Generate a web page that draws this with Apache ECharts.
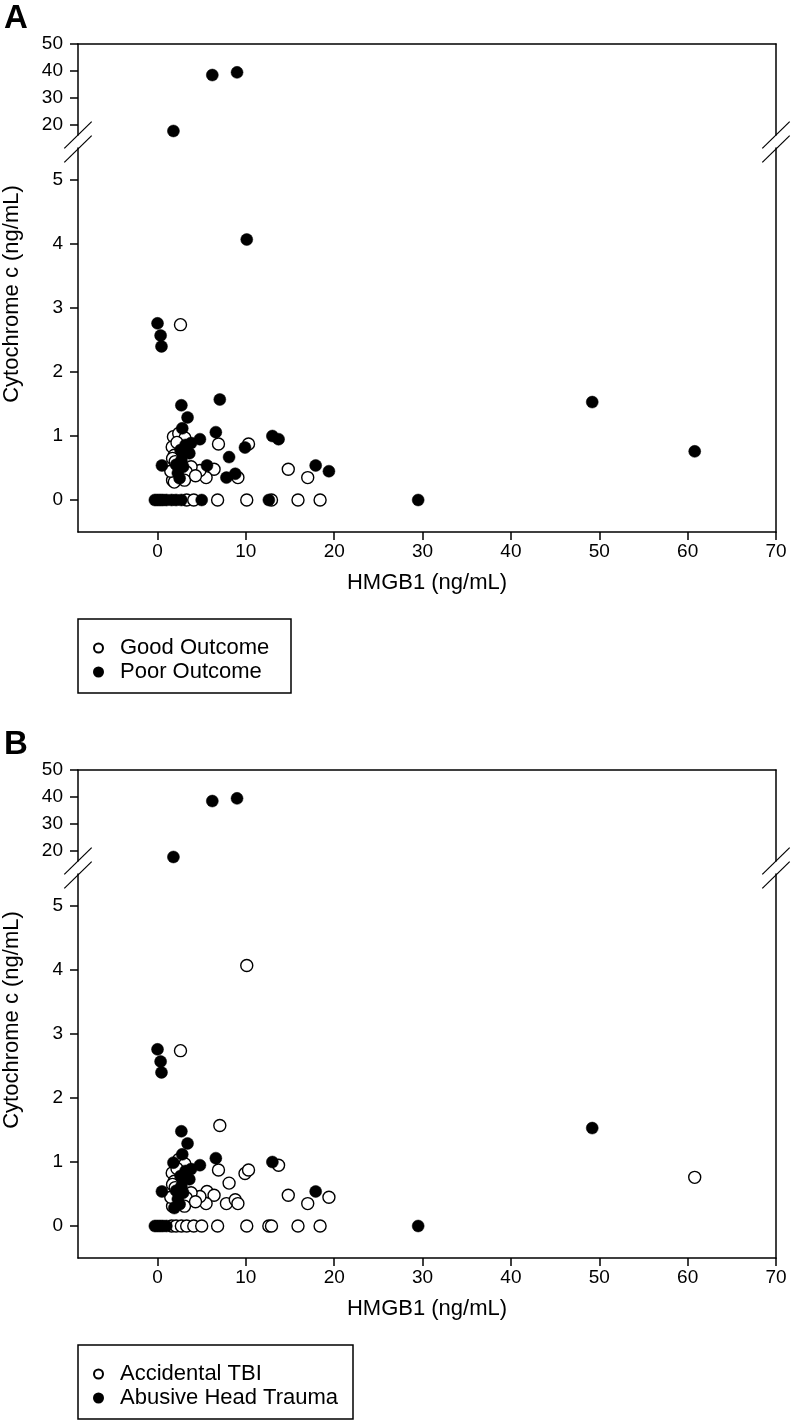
<!DOCTYPE html>
<html><head><meta charset="utf-8">
<script src="https://cdn.jsdelivr.net/npm/echarts@6/dist/echarts.min.js"></script>
<style>html,body{margin:0;padding:0;background:#fff}#c{width:792px;height:1421px}</style>
</head><body><div id="c"></div>
<script>
// ---- data (HMGB1 ng/mL, cytochrome c ng/mL, outcome flag, mechanism flag) ----
const hmgb1 = [1.8, 6.2, 9.0, 10.1, 0.0, 0.35, 0.45, 2.6, 7.05, 2.7,
  3.4, 2.8, 6.6, 13.0, 13.7, 4.8, 9.9, 10.3, 6.9, 8.1,
  0.5, 5.6, 6.4, 14.8, 17.9, 19.4, 17.0, 7.8, 8.8, 9.1,
  5.5, 4.8, 49.2, 60.8, 29.5, 1.8, 2.4, 1.66, 3.17, 3.8,
  3.6, 1.9, 1.7, 2.7, 2.1, 2.9, 3.8, 2.3, 3.25, 2.5,
  1.7, 1.9, 3.05, 3.1, -0.3, 0.0, 0.3, 0.6, 1.0, 1.6,
  2.1, 2.7, 3.3, 4.1, 5.0, 6.8, 10.1, 12.6, 12.9, 15.9,
  18.4, 2.2, 1.5, 2.0, 4.3, 2.6];
const cytochromeC = [17.5, 38.4, 39.4, 4.07, 2.76, 2.57, 2.40, 2.74, 1.57, 1.48,
  1.29, 1.12, 1.06, 1.00, 0.95, 0.95, 0.82, 0.875, 0.875, 0.67,
  0.54, 0.54, 0.48, 0.48, 0.54, 0.45, 0.35, 0.35, 0.41, 0.35,
  0.35, 0.46, 1.53, 0.76, 0.0, 0.99, 1.04, 0.83, 0.86, 0.89,
  0.73, 0.70, 0.65, 0.62, 0.55, 0.52, 0.52, 0.42, 0.44, 0.34,
  0.31, 0.28, 0.31, 0.97, 0, 0, 0, 0, 0, 0,
  0, 0, 0, 0, 0, 0, 0, 0, 0, 0,
  0, 0.90, 0.45, 0.60, 0.38, 0.78];
const poorOutcome = [1, 1, 1, 1, 1, 1, 1, 0, 1, 1,
  1, 1, 1, 1, 1, 1, 1, 0, 0, 1,
  1, 1, 0, 0, 1, 1, 0, 1, 1, 0,
  0, 0, 1, 1, 1, 0, 0, 0, 1, 1,
  1, 0, 0, 1, 1, 1, 0, 1, 0, 1,
  0, 0, 0, 0, 1, 1, 1, 1, 1, 1,
  1, 1, 0, 0, 1, 0, 0, 1, 0, 0,
  0, 0, 0, 0, 0, 1];
const abusiveHeadTrauma = [1, 1, 1, 0, 1, 1, 1, 0, 0, 1,
  1, 1, 1, 1, 0, 1, 0, 0, 0, 0,
  1, 0, 0, 0, 1, 0, 0, 0, 0, 0,
  0, 0, 1, 0, 1, 1, 0, 0, 1, 1,
  1, 0, 0, 1, 1, 1, 0, 1, 0, 1,
  0, 1, 0, 0, 1, 1, 1, 1, 1, 0,
  0, 0, 0, 0, 0, 0, 0, 0, 0, 0,
  0, 0, 0, 0, 0, 1];
const xTickValues = [0, 10, 20, 30, 40, 50, 60, 70];
const yLowerTicks = [0, 1, 2, 3, 4, 5];
const yUpperTicks = [20, 30, 40, 50];
const panelLabels = ['A', 'B'];
const legendNamesA = ['Good Outcome', 'Poor Outcome'];
const legendNamesB = ['Accidental TBI', 'Abusive Head Trauma'];
const xTitle = 'HMGB1 (ng/mL)';
const yTitle = 'Cytochrome c (ng/mL)';

// ---- layout ----
const FONT = 'Liberation Sans, Arial, sans-serif';
const L = 78, W = 698;
const X_MIN = -9, X_MAX = 70;
const UP_MIN = 16, UP_MAX = 50, LOW_MIN = -0.5, LOW_MAX = 5.5;
const panelTop = [44, 770];
const UP_H = 91, LOW_OFF = 104, LOW_H = 384;
const LW = 1.5;

const grid = [], xAxis = [], yAxis = [], series = [], graphic = [], legend = [];

function ptsFor(flags, cls, upper) {
  const out = [];
  for (let i = 0; i < hmgb1.length; i++) {
    if (flags[i] !== cls) continue;
    const isUp = cytochromeC[i] >= UP_MIN;
    if (isUp !== upper) continue;
    out.push([hmgb1[i], cytochromeC[i]]);
  }
  return out;
}

const flagSets = [poorOutcome, abusiveHeadTrauma];
const names = [legendNamesA, legendNamesB];

panelLabels.forEach((lab, p) => {
  const top = panelTop[p];
  const gUp = grid.length;
  grid.push({left: L, top: top, width: W, height: UP_H});
  grid.push({left: L, top: top + LOW_OFF, width: W, height: LOW_H});
  const gLow = gUp + 1;
  const lineStyle = {color: '#000', width: LW};
  xAxis.push({gridIndex: gUp, type: 'value', min: X_MIN, max: X_MAX, position: 'top',
    axisLine: {show: true, onZero: false, lineStyle}, axisTick: {show: false},
    axisLabel: {show: false}, splitLine: {show: false}});
  xAxis.push({gridIndex: gLow, type: 'value', min: X_MIN, max: X_MAX, position: 'bottom',
    axisLine: {show: true, onZero: false, lineStyle},
    axisTick: {show: true, inside: false, length: 8, lineStyle, customValues: xTickValues},
    axisLabel: {show: true, customValues: xTickValues, margin: 10, fontSize: 19, fontFamily: FONT, color: '#000'},
    splitLine: {show: false},
    name: xTitle, nameLocation: 'middle', nameGap: 40,
    nameTextStyle: {fontSize: 22, fontFamily: FONT, color: '#000'}});
  const yUpIdx = yAxis.length;
  yAxis.push({gridIndex: gUp, type: 'value', min: UP_MIN, max: UP_MAX, position: 'left',
    axisLine: {show: true, onZero: false, lineStyle},
    axisTick: {show: true, inside: false, length: 8, lineStyle, customValues: yUpperTicks},
    axisLabel: {show: true, customValues: yUpperTicks, margin: 15, fontSize: 19, fontFamily: FONT, color: '#000'},
    splitLine: {show: false}});
  yAxis.push({gridIndex: gUp, type: 'value', min: UP_MIN, max: UP_MAX, position: 'right',
    axisLine: {show: true, onZero: false, lineStyle}, axisTick: {show: false},
    axisLabel: {show: false}, splitLine: {show: false}});
  const yLowIdx = yAxis.length;
  yAxis.push({gridIndex: gLow, type: 'value', min: LOW_MIN, max: LOW_MAX, position: 'left',
    axisLine: {show: true, onZero: false, lineStyle},
    axisTick: {show: true, inside: false, length: 8, lineStyle, customValues: yLowerTicks},
    axisLabel: {show: true, customValues: yLowerTicks, margin: 15, fontSize: 19, fontFamily: FONT, color: '#000'},
    splitLine: {show: false}});
  yAxis.push({gridIndex: gLow, type: 'value', min: LOW_MIN, max: LOW_MAX, position: 'right',
    axisLine: {show: true, onZero: false, lineStyle}, axisTick: {show: false},
    axisLabel: {show: false}, splitLine: {show: false}});

  [0, 1].forEach(cls => {
    const style = cls === 0
      ? {color: '#fff', borderColor: '#000', borderWidth: 1.4, opacity: 1}
      : {color: '#000', borderColor: '#000', borderWidth: 0.5, opacity: 1};
    [[true, gUp, yUpIdx], [false, gLow, yLowIdx]].forEach(([up, g, yi]) => {
      series.push({type: 'scatter', name: names[p][cls], xAxisIndex: g, yAxisIndex: yi,
        data: ptsFor(flagSets[p], cls, up), symbol: 'circle', symbolSize: 12,
        itemStyle: style, clip: false, z: 2 + cls, silent: true,
        emphasis: {disabled: true}});
    });
  });

  legend.push({show: true, orient: 'vertical', left: 88, top: top + 588,
    itemWidth: 9, itemHeight: 9, itemGap: 2, icon: 'circle', selectedMode: false,
    textStyle: {fontSize: 22, fontFamily: FONT, color: '#000', padding: [0, 0, 0, 12]},
    data: names[p]});
  graphic.push({type: 'rect', shape: {x: L, y: top + 575, width: p === 0 ? 213 : 275, height: 74},
    style: {fill: 'none', stroke: '#000', lineWidth: LW}, silent: true});

  graphic.push({type: 'text', x: 4, y: top - 42, style: {text: lab, font: 'bold 33px ' + FONT, fill: '#000'}});
  graphic.push({type: 'text', x: 12, y: top + 250, rotation: Math.PI / 2,
    style: {text: yTitle, font: '22px ' + FONT, fill: '#000', align: 'center', verticalAlign: 'middle'}});

  [L, L + W].forEach(ax => {
    [top + 91, top + 105].forEach(cy => {
      graphic.push({type: 'line', shape: {x1: ax + 13.7, y1: cy - 13.4, x2: ax - 13.7, y2: cy + 13.4},
        style: {stroke: '#000', lineWidth: 1.2}, silent: true});
    });
  });
});

const chart = echarts.init(document.getElementById('c'), null, {renderer: 'canvas'});
chart.setOption({animation: false, backgroundColor: '#fff', grid, xAxis, yAxis, series, legend, graphic});
</script></body></html>
